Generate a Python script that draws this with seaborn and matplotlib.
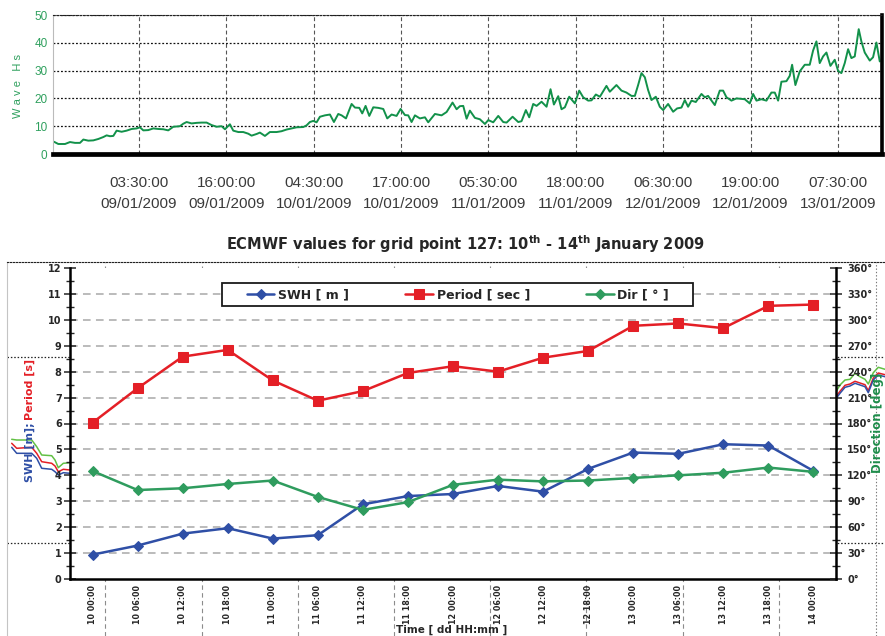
import numpy as np
import pandas as pd
import matplotlib
matplotlib.use("Agg")
import matplotlib.pyplot as plt
import matplotlib.dates as mdates
from matplotlib.patches import Rectangle
from matplotlib.ticker import MultipleLocator
import seaborn as sns

# ---------------- Top panel data: Wave Hs (hours after 09/01/2009 00:00) ----------------
hs_hours = [-8.66, -8.04, -7.08, -6.37, -5.65, -4.94, -4.46, -3.75, -3.03, -2.32, -1.60, -1.13,
            -0.65, -0.17, 0.30, 1.02, 1.73, 2.45, 3.17, 3.64, 4.12, 4.83, 5.55, 6.26, 6.98, 7.69,
            8.41, 9.36, 9.84, 10.32, 11.03, 11.75, 12.46, 13.18, 13.89, 14.61, 15.32, 15.80, 16.51,
            16.99, 17.71, 18.42, 19.14, 19.61, 20.33, 20.80, 21.52, 22.23, 23.19, 23.90, 24.62,
            25.33, 26.05, 27.00, 27.48, 27.95, 28.43, 28.91, 29.39, 30.10, 30.82,
            31.39, 32.01, 32.49, 33.11, 33.92, 34.40, 35.02, 35.44, 35.92, 36.45, 37.02, 37.73,
            38.45, 39.02, 39.64, 40.35, 40.93, 41.55, 42.02, 42.50, 42.98, 43.69, 44.41, 44.88,
            45.84, 46.79, 47.51, 48.36, 48.94, 49.41, 49.89, 50.37, 50.84, 51.56, 52.27, 52.99,
            53.47, 54.18, 54.90, 55.61, 56.09, 56.95, 57.76, 58.23, 58.85, 59.33, 59.90, 60.38,
            61.09, 61.81, 62.38, 62.86, 63.48, 63.95, 64.43, 65.05, 65.86, 66.48, 67.05, 67.77,
            68.24, 68.86, 69.44,
            70.38, 70.86, 71.81, 72.53, 73.24, 73.96, 74.44, 74.91, 75.39, 75.87, 76.34, 76.82,
            77.44, 78.01, 78.49, 79.20, 79.92, 80.49, 81.11, 81.59, 82.06, 82.54, 83.16, 83.97,
            84.45, 84.92, 85.88, 86.59, 87.07, 87.55, 88.26, 88.98, 90.17, 90.88, 91.36, 91.84,
            92.55, 93.27, 93.98, 94.46, 94.94, 95.41, 96.13, 96.60, 96.94, 97.41, 98.03, 98.75,
            99.46, 99.94, 100.42, 100.89, 101.37, 101.85, 102.42, 103.04, 103.52, 103.99, 104.47,
            104.95, 105.42, 105.90, 106.47, 106.85, 107.33, 108.05, 108.52, 109.00, 109.48]
hs_values = [4.4, 3.6, 3.6, 4.3, 4.0, 4.0, 5.2, 4.8, 4.9, 5.4, 6.1, 6.7,
             6.4, 6.5, 8.4, 8.0, 8.4, 9.0, 9.2, 9.6, 8.5, 8.6, 9.2, 9.0, 8.9, 8.5,
             9.8, 10.0, 10.9, 11.5, 11.0, 11.2, 11.3, 11.3, 10.4, 9.8, 10.0, 8.9, 10.7,
             8.4, 7.9, 7.9, 7.3, 6.6, 7.2, 7.7, 6.5, 7.9, 7.9, 8.2, 8.8,
             9.2, 9.6, 9.7, 10.3, 11.5, 11.9, 11.4, 13.4, 13.9, 14.2,
             11.5, 14.4, 13.9, 12.8, 18.0, 16.7, 16.6, 14.6, 17.3, 13.7, 16.8, 16.6,
             16.2, 12.8, 14.2, 13.7, 16.2, 14.0, 13.9, 11.5, 13.9, 12.8, 13.2, 11.4,
             14.4, 13.9, 15.1, 18.5, 16.1, 17.2, 17.3, 12.7, 15.6, 13.0, 12.5, 10.8,
             12.2, 11.4, 13.7, 11.5, 11.3, 13.4, 11.5, 11.8, 15.8, 13.2, 18.0, 17.3,
             18.8, 17.0, 23.3, 17.8, 20.8, 16.1, 16.8, 20.6, 18.2, 22.8, 20.4, 19.2,
             19.3, 21.4, 20.6,
             24.5, 22.4, 24.8, 22.8, 22.1, 20.9, 20.9, 24.8, 29.1, 27.6, 23.0, 19.4,
             20.6, 17.0, 15.8, 18.0, 15.2, 16.4, 16.7, 19.4, 17.0, 19.2, 18.7, 21.6,
             20.4, 20.9, 17.6, 22.8, 22.8, 20.4, 19.2, 20.0, 19.7, 18.2, 21.6, 19.2,
             19.7, 19.2, 22.1, 22.1, 19.2, 26.0, 26.2, 28.1, 32.1, 24.8, 29.7, 32.1,
             32.1, 37.2, 40.5, 32.7, 35.1, 36.5, 31.7, 33.9, 29.9, 29.1, 32.7,
             37.7, 34.5, 35.1, 44.9, 40.5, 36.5, 33.6, 34.8, 40.1, 33.3]
top_base = pd.Timestamp("2009-01-09 00:00")
top_xlim_hours = (-8.8, 109.8)
top_tick_times = pd.date_range("2009-01-09 03:30", periods=9, freq="750min")
top_yticks = [0, 10, 20, 30, 40, 50]

# ---------------- Bottom panel data ----------------
time_labels = ["10 00:00", "10 06:00", "10 12:00", "10 18:00", "11 00:00", "11 06:00",
               "11 12:00", "11 18:00", "12 00:00", "12 06:00", "12 12:00", "12 18:00",
               "13 00:00", "13 06:00", "13 12:00", "13 18:00", "14 00:00"]
swh_m = [0.94, 1.29, 1.75, 1.96, 1.56, 1.69, 2.88, 3.20, 3.28, 3.59, 3.37, 4.25,
         4.88, 4.83, 5.20, 5.15, 4.17]
period_s = [6.03, 7.36, 8.58, 8.84, 7.66, 6.88, 7.25, 7.95, 8.21, 8.00, 8.54, 8.80,
            9.77, 9.86, 9.68, 10.54, 10.59]
dir_deg = [125, 103, 105, 110, 114, 95, 80, 89, 109, 115, 113, 114, 117, 120, 123, 129, 124]
left_ticks = list(range(0, 13))
right_ticks = list(range(0, 361, 30))
legend_labels = ["SWH [ m ]", "Period [ sec ]", "Dir [ ° ]"]

# ---------------- Background chart fragments (partly hidden underneath) ----------------
bg_grid_x = [105, 202, 298, 394, 490, 586, 683, 779, 876]
bg_grid_y = [357, 543]
bg_left_x = [11.7, 16.7, 31.7, 36.7, 41.7, 51.7, 55, 58.3, 63.3, 70]
bg_left_green = [439.3, 440, 440, 446.7, 455, 455.7, 460, 467.7, 463.3, 462.7]
bg_left_red = [443.3, 448.3, 447.3, 453.3, 461.7, 463.3, 466, 471.7, 469.3, 470]
bg_left_blue = [447.3, 453.3, 453.3, 458.3, 468.3, 469.3, 471.7, 475, 472.7, 473.3]
bg_right_x = [835, 840, 845, 850, 855, 860, 865, 868.3, 873.3, 878.3, 885]
bg_right_blue = [400, 393.3, 387.3, 386, 383.3, 385, 386.7, 392.7, 380, 375, 376.7]
bg_right_red = [398, 391.3, 385.3, 384, 381.3, 383, 384.7, 390.7, 378, 373, 374.7]
bg_right_green = [393.3, 385, 380, 379.3, 373.3, 376.7, 379.3, 384, 372.7, 367.3, 369.3]

# ---------------- Styling ----------------
sns.set_style("white")
plt.rcParams["font.family"] = ["DejaVu Sans"]
plt.rcParams["mathtext.fontset"] = "dejavusans"
NARROW = ["Liberation Sans", "DejaVu Sans"]

c_top = "#12914a"
c_toplab = "#2fa05e"
c_blue = "#2f4fa6"
c_red = "#e41f26"
c_green = "#2f9c5e"
c_lgreen = "#62c044"

W, H = 885, 636
fig = plt.figure(figsize=(W / 100, H / 100), dpi=100)
fig.patch.set_facecolor("white")


def box(x0, y0, x1, y1):
    return [x0 / W, 1 - y1 / H, (x1 - x0) / W, (y1 - y0) / H]


# ---------------- Background axes ----------------
bg = fig.add_axes(box(7, 262, 885, 636), zorder=0)
bg.set_xlim(7, 885)
bg.set_ylim(636, 262)
bg.set_xticks(bg_grid_x)
bg.set_yticks(bg_grid_y)
bg.tick_params(length=0, labelbottom=False, labelleft=False)
bg.grid(axis="x", color="#8c8c8c", linestyle=(0, (4, 3)), linewidth=0.8)
bg.grid(axis="y", color="#222222", linestyle=(0, (1.2, 1.5)), linewidth=0.9)
bg.get_xgridlines()[-1].set_color("#777777")
bg.get_xgridlines()[-1].set_linestyle((0, (1.2, 1.8)))
for s in ["right", "bottom"]:
    bg.spines[s].set_visible(False)
bg.spines["top"].set_linestyle((0, (1.2, 1.5)))
bg.spines["top"].set_color("#222222")
bg.spines["left"].set_color("#c4c4c4")
bg.spines["left"].set_linewidth(0.8)
bg.plot(bg_left_x, bg_left_green, color=c_lgreen, lw=1.1)
bg.plot(bg_left_x, bg_left_red, color=c_red, lw=1.1)
bg.plot(bg_left_x, bg_left_blue, color=c_blue, lw=1.1)
bg.plot(bg_right_x, bg_right_green, color=c_lgreen, lw=1.1)
bg.plot(bg_right_x, bg_right_red, color=c_red, lw=1.1)
bg.plot(bg_right_x, bg_right_blue, color=c_blue, lw=1.1)

# ---------------- Top panel ----------------
ax_top = fig.add_axes(box(53, 15, 882, 154), zorder=1)
ax_top.set_facecolor("white")
times = top_base + pd.to_timedelta(hs_hours, unit="h")
sns.lineplot(x=times, y=hs_values, ax=ax_top, color=c_top, linewidth=1.4,
             errorbar=None, sort=False)
ax_top.set_xlim(mdates.date2num(top_base + pd.Timedelta(hours=top_xlim_hours[0])),
                mdates.date2num(top_base + pd.Timedelta(hours=top_xlim_hours[1])))
ax_top.set_ylim(0, 50)
ax_top.set_xticks(mdates.date2num(top_tick_times))
ax_top.set_xticklabels([t.strftime("%H:%M:%S\n%d/%m/%Y") for t in top_tick_times],
                       fontfamily=NARROW, fontsize=11, color="#3a3a3a", linespacing=1.65)
ax_top.set_yticks(top_yticks)
ax_top.set_yticklabels([str(v) for v in top_yticks], fontfamily=NARROW, fontsize=8.5,
                       color=c_toplab)
ax_top.tick_params(axis="x", length=5, width=0.9, color="#444444", pad=11)
ax_top.tick_params(axis="y", length=2, width=0.6, color="#999999", pad=2)
ax_top.set_xlabel("")
ax_top.set_ylabel("")
ax_top.yaxis.grid(True, color="#111111", linestyle=(0, (1.5, 1.5)), linewidth=0.9)
ax_top.xaxis.grid(True, color="#555555", linestyle=(0, (3.5, 2.5)), linewidth=0.8)
ax_top.set_axisbelow(True)
ax_top.spines["bottom"].set_linewidth(3.4)
ax_top.spines["bottom"].set_color("black")
ax_top.spines["right"].set_linewidth(2.6)
ax_top.spines["right"].set_color("black")
ax_top.spines["top"].set_linestyle((0, (1.5, 1.5)))
ax_top.spines["top"].set_color("#222222")
ax_top.spines["left"].set_color("#bbbbbb")
ax_top.spines["left"].set_linewidth(0.8)
fig.text(18 / W, 1 - 86 / H, "W a v e   H s", rotation=90, ha="center", va="center",
         color=c_toplab, fontsize=8, fontfamily=NARROW)

# ---------------- Bottom panel ----------------
ax = fig.add_axes(box(70, 268, 836, 579), zorder=2)
ax.set_facecolor("white")
ax2 = ax.twinx()
ax2.set_zorder(3)
ax2.patch.set_visible(False)

df = pd.DataFrame({"pos": np.arange(len(time_labels)), "swh": swh_m,
                   "period": period_s, "dir": dir_deg})
sns.lineplot(data=df, x="pos", y="swh", ax=ax, color=c_blue, marker="D", markersize=5,
             markeredgecolor=c_blue, linewidth=1.8, label=legend_labels[0], errorbar=None)
sns.lineplot(data=df, x="pos", y="period", ax=ax, color=c_red, marker="s", markersize=7,
             markeredgecolor=c_red, linewidth=1.8, label=legend_labels[1], errorbar=None)
sns.lineplot(data=df, x="pos", y="dir", ax=ax2, color=c_green, marker="D", markersize=5,
             markeredgecolor=c_green, linewidth=1.8, label=legend_labels[2], errorbar=None)
for a in (ax, ax2):
    if a.get_legend() is not None:
        a.get_legend().remove()
    a.set_xlabel("")
    a.set_ylabel("")

ax.set_xlim(-0.5, len(time_labels) - 0.5)
ax.set_ylim(0, 12)
ax2.set_ylim(0, 360)
ax.set_xticks(df["pos"])
ax.set_xticklabels(time_labels, rotation=90, fontsize=5.8, fontweight="bold")
ax.set_xticks(np.arange(-0.5, len(time_labels), 1), minor=True)
ax.tick_params(axis="x", which="major", length=0, pad=4)
ax.tick_params(axis="x", which="minor", direction="inout", length=7, width=1.1)

ax.set_yticks(left_ticks)
ax.set_yticklabels([str(v) for v in left_ticks], fontsize=7, fontweight="bold")
ax.yaxis.set_minor_locator(MultipleLocator(0.5))
ax.tick_params(axis="y", which="major", direction="inout", length=8, width=1.1, pad=2)
ax.tick_params(axis="y", which="minor", direction="inout", length=6, width=1.0)

ax2.set_yticks(right_ticks)
ax2.set_yticklabels([f"{v}°" for v in right_ticks], fontsize=7, fontweight="bold")
ax2.yaxis.set_minor_locator(MultipleLocator(15))
ax2.tick_params(axis="y", which="major", direction="inout", length=8, width=1.1, pad=4)
ax2.tick_params(axis="y", which="minor", direction="inout", length=6, width=1.0)

ax.yaxis.grid(True, which="major", color="#a8a8a8", linestyle=(0, (5, 3.5)), linewidth=1.1)
ax.get_ygridlines()[-1].set_visible(False)
ax.get_ygridlines()[0].set_visible(False)
ax.set_axisbelow(True)
for s in ["top", "right"]:
    ax.spines[s].set_visible(False)
for s in ["top", "left", "bottom"]:
    ax2.spines[s].set_visible(False)
for a, s in [(ax, "left"), (ax, "bottom"), (ax2, "right")]:
    a.spines[s].set_color("black")
    a.spines[s].set_linewidth(1.8)

# Legend
handles = ax.get_legend_handles_labels()[0] + ax2.get_legend_handles_labels()[0]
fig.patches.append(Rectangle((222 / W, 1 - 306 / H), (693 - 222) / W, (306 - 283) / H,
                             transform=fig.transFigure, facecolor="white",
                             edgecolor="#1a1a1a", linewidth=1.3, zorder=4.5))
fig.legend(handles, legend_labels, loc="center", bbox_to_anchor=(458 / W, 1 - 294.5 / H),
           ncol=3, frameon=False, prop={"weight": "bold", "size": 9},
           handlelength=2.2, handletextpad=0.3, columnspacing=4.5, borderpad=0)

# Titles and axis labels
fig.text(465 / W, 1 - 244 / H,
         r"ECMWF values for grid point 127: 10$^{\mathbf{th}}$ - 14$^{\mathbf{th}}$ January 2009",
         ha="center", va="center", fontsize=10.5, fontweight="bold")
swh_lab = fig.text(30 / W, 1 - 482 / H, "SWH [m];", rotation=90, ha="center", va="bottom",
                   color=c_blue, fontsize=8, fontweight="bold")
fig.add_artist(matplotlib.text.Annotation(
    "Period [s]", xy=(0.5, 1.0), xycoords=swh_lab, xytext=(0, 2),
    textcoords="offset points", rotation=90, ha="center", va="bottom",
    color=c_red, fontsize=8, fontweight="bold"))
fig.text(877 / W, 1 - 423 / H, "Direction [deg]", rotation=90, ha="center", va="center",
         color="#1e8c4a", fontsize=8.5, fontweight="bold")
fig.text(452 / W, 1 - 633 / H, "Time [ dd HH:mm ]", ha="center", va="baseline",
         fontsize=7.5, fontweight="bold")

fig.savefig("out.png", dpi=100, facecolor="white")
